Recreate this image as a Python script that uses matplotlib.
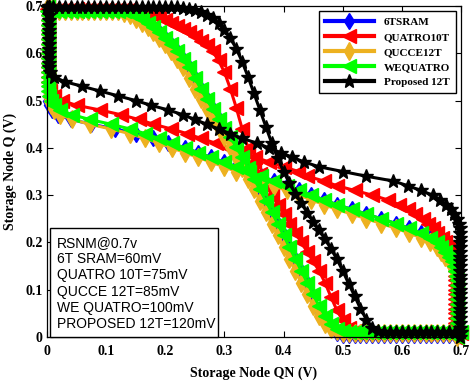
import matplotlib.pyplot as plt
from matplotlib.patches import Rectangle

# sweep voltage (V) used for both halves of every butterfly curve
sweep = [0.00, 0.01, 0.02, 0.03, 0.04, 0.05, 0.06, 0.07, 0.08, 0.09,
         0.10, 0.11, 0.12, 0.13, 0.14, 0.15, 0.16, 0.17, 0.18, 0.19,
         0.20, 0.21, 0.22, 0.23, 0.24, 0.25, 0.26, 0.27, 0.28, 0.29,
         0.30, 0.31, 0.32, 0.33, 0.34, 0.35, 0.36, 0.37, 0.38, 0.39,
         0.40, 0.41, 0.42, 0.43, 0.44, 0.45, 0.46, 0.47, 0.48, 0.49,
         0.50, 0.51, 0.52, 0.53, 0.54, 0.55, 0.56, 0.57, 0.58, 0.59,
         0.60, 0.61, 0.62, 0.63, 0.64, 0.65, 0.66, 0.67, 0.68, 0.69, 0.70]

# VTC 1: Q read at each QN in sweep
q_6t = [0.69] * 14 + [0.685, 0.68, 0.673, 0.665, 0.655, 0.645, 0.633, 0.62, 0.605, 0.588,
                      0.57, 0.548, 0.525, 0.503, 0.482, 0.462, 0.442, 0.422, 0.402, 0.38,
                      0.358, 0.335, 0.312, 0.288, 0.264, 0.24, 0.215, 0.19, 0.165, 0.14,
                      0.115, 0.085, 0.058, 0.035, 0.018, 0.008] + [0.004] * 21
q_quatro = [0.693] * 15 + [0.69, 0.687, 0.684, 0.68, 0.676, 0.671, 0.665, 0.658, 0.651, 0.644,
                           0.636, 0.627, 0.617, 0.604, 0.585, 0.56, 0.525, 0.485, 0.44, 0.40,
                           0.37, 0.345, 0.322, 0.30, 0.28, 0.26, 0.24, 0.22, 0.20, 0.18,
                           0.16, 0.14, 0.115, 0.085, 0.057, 0.035, 0.02, 0.012] + [0.009] * 18
q_qucce = [0.69] * 13 + [0.685, 0.68, 0.673, 0.665, 0.655, 0.645, 0.633, 0.62, 0.605, 0.588,
                         0.57, 0.548, 0.525, 0.503, 0.482, 0.462, 0.442, 0.422, 0.402, 0.38,
                         0.358, 0.335, 0.312, 0.288, 0.264, 0.24, 0.215, 0.19, 0.165, 0.14,
                         0.115, 0.09, 0.066, 0.045, 0.028, 0.017, 0.012] + [0.009] * 21
q_wequatro = [0.69] * 14 + [0.685, 0.68, 0.673, 0.665, 0.655, 0.645, 0.633, 0.62, 0.605, 0.588,
                            0.57, 0.548, 0.525, 0.503, 0.482, 0.462, 0.442, 0.422, 0.402, 0.38,
                            0.358, 0.335, 0.312, 0.288, 0.264, 0.24, 0.215, 0.19, 0.165, 0.14,
                            0.115, 0.09, 0.066, 0.045, 0.028, 0.017, 0.012] + [0.01] * 20
q_prop = [0.698] * 23 + [0.696, 0.694, 0.691, 0.687, 0.681, 0.674, 0.664, 0.65, 0.632, 0.61,
                         0.582, 0.55, 0.515, 0.48, 0.445, 0.41, 0.378, 0.35, 0.325, 0.303,
                         0.283, 0.263, 0.244, 0.226, 0.207, 0.187, 0.165, 0.14, 0.113, 0.087,
                         0.06, 0.037, 0.02, 0.012] + [0.01] * 14

# VTC 2: QN read at each Q in sweep
qn_6t = [0.694] * 13 + [0.692, 0.69, 0.688, 0.684, 0.679, 0.673, 0.667, 0.66, 0.648, 0.632,
                        0.612, 0.59, 0.565, 0.54, 0.515, 0.49, 0.468, 0.447, 0.426, 0.405,
                        0.383, 0.362, 0.341, 0.32, 0.299, 0.277, 0.255, 0.233, 0.205, 0.18,
                        0.15, 0.115, 0.075, 0.04, 0.018, 0.008, 0.004] + [0.002] * 21
qn_quatro = [0.69] * 16 + [0.688, 0.685, 0.682, 0.678, 0.673, 0.668, 0.66, 0.652, 0.645, 0.635,
                           0.623, 0.61, 0.595, 0.576, 0.55, 0.52, 0.49, 0.468, 0.44, 0.425,
                           0.40, 0.376, 0.352, 0.33, 0.308, 0.285, 0.26, 0.237, 0.21, 0.18,
                           0.155, 0.125, 0.09, 0.05, 0.025, 0.012, 0.005, 0.003] + [0.002] * 17
qn_qucce = [0.694] * 12 + [0.692, 0.69, 0.688, 0.684, 0.679, 0.673, 0.667, 0.66, 0.648, 0.632,
                           0.612, 0.59, 0.565, 0.54, 0.515, 0.49, 0.468, 0.447, 0.426, 0.405,
                           0.383, 0.362, 0.341, 0.32, 0.299, 0.277, 0.255, 0.233, 0.211, 0.189,
                           0.166, 0.14, 0.108, 0.072, 0.043, 0.022, 0.011, 0.006, 0.003] + [0.002] * 20
qn_wequatro = [0.694] * 13 + [0.692, 0.69, 0.688, 0.684, 0.679, 0.673, 0.667, 0.66, 0.648, 0.632,
                              0.612, 0.59, 0.565, 0.54, 0.515, 0.49, 0.468, 0.447, 0.426, 0.405,
                              0.383, 0.362, 0.341, 0.32, 0.299, 0.277, 0.255, 0.233, 0.211, 0.189,
                              0.166, 0.14, 0.108, 0.072, 0.043, 0.022, 0.011, 0.006, 0.003] + [0.002] * 19
qn_prop = [0.699] * 23 + [0.698, 0.696, 0.693, 0.688, 0.683, 0.675, 0.665, 0.652, 0.632, 0.61,
                          0.585, 0.54, 0.50, 0.46, 0.435, 0.415, 0.395, 0.375, 0.355, 0.33,
                          0.31, 0.29, 0.27, 0.25, 0.23, 0.205, 0.176, 0.15, 0.12, 0.09,
                          0.06, 0.03, 0.012, 0.005] + [0.003] * 14

labels = ['6TSRAM', 'QUATRO10T', 'QUCCE12T', 'WEQUATRO', 'Proposed 12T']
vtc1 = [q_6t, q_quatro, q_qucce, q_wequatro, q_prop]
vtc2 = [qn_6t, qn_quatro, qn_qucce, qn_wequatro, qn_prop]
colors = ['#0000ff', '#ff0000', '#edb120', '#00ff00', '#000000']
markers = ['d', '<', 'd', '<', '*']
msizes = [8, 10, 9, 10, 10]

rsnm_text = ('RSNM@0.7v\n6T SRAM=60mV\nQUATRO 10T=75mV\nQUCCE 12T=85mV\n'
             'WE QUATRO=100mV\nPROPOSED 12T=120mV')

fig = plt.figure(figsize=(4.77, 3.85), dpi=100)
ax = fig.add_axes([47 / 477, 1 - 337 / 385, 414 / 477, 331 / 385])

for lab, a, b, c, m, ms in zip(labels, vtc1, vtc2, colors, markers, msizes):
    style = dict(color=c, lw=2.2, marker=m, ms=ms, mfc=c, mec=c, clip_on=False)
    ax.plot(sweep, a, label=lab, **style)
    ax.plot(b, sweep, **style)

ax.set_xlim(0, 0.7)
ax.set_ylim(0, 0.7)
ticks = [0, 0.1, 0.2, 0.3, 0.4, 0.5, 0.6, 0.7]
ticklabels = ['0', '0.1', '0.2', '0.3', '0.4', '0.5', '0.6', '0.7']
ax.set_xticks(ticks)
ax.set_xticklabels(ticklabels)
ax.set_yticks(ticks)
ax.set_yticklabels(ticklabels)
ax.tick_params(direction='in', top=True, right=True, length=4, width=0.8)
ax.tick_params(axis='x', pad=6)
ax.tick_params(axis='y', pad=3)
for t in ax.get_xticklabels() + ax.get_yticklabels():
    t.set_fontfamily('Liberation Serif')
    t.set_fontweight('bold')
    t.set_fontsize(10)
for s in ax.spines.values():
    s.set_linewidth(0.9)

ax.set_xlabel('Storage Node QN (V)', fontfamily='Liberation Serif', fontweight='bold',
              fontsize=10, labelpad=6)
ax.set_ylabel('Storage Node Q (V)', fontfamily='Liberation Serif', fontweight='bold',
              fontsize=10, labelpad=6)

leg = ax.legend(loc='upper right', bbox_to_anchor=(456 / 477, 1 - 11 / 385),
                bbox_transform=fig.transFigure, borderaxespad=0, fancybox=False,
                edgecolor='black', framealpha=1, handlelength=4.4, handletextpad=0.9,
                labelspacing=0.48, borderpad=0.55,
                prop={'family': 'Liberation Serif', 'weight': 'bold', 'size': 8})
leg.get_frame().set_linewidth(1.0)
for h in leg.legend_handles:
    h.set_linewidth(3)

fig.patches.append(Rectangle((50 / 477, 1 - 337 / 385), 168 / 477, 109 / 385,
                             transform=fig.transFigure, facecolor='white',
                             edgecolor='black', lw=1.0, zorder=5))
fig.text(57 / 477, 1 - 236 / 385, rsnm_text, fontfamily='Liberation Sans', fontsize=10,
         va='top', ha='left', linespacing=1.2, zorder=6)

fig.savefig('out.png', dpi=100)
